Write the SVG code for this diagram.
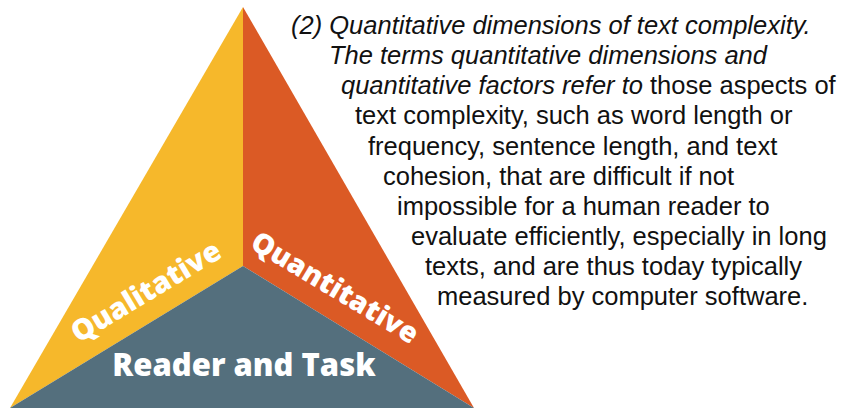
<svg xmlns="http://www.w3.org/2000/svg" width="842" height="409" viewBox="0 0 842 409">
  <style>
    .seg-label { font-family: "Open Sans", "Liberation Sans", sans-serif; font-weight: 800; fill: #ffffff; text-anchor: middle; }
    .body { font-family: "Liberation Sans", Arial, sans-serif; font-size: 25.5px; fill: #111111; }
    .it { font-style: italic; }
  </style>
  <rect width="842" height="409" fill="#ffffff"/>

  <!-- Text-complexity triangle -->
  <g id="qualitative">
    <polygon points="243,7 10,408 243,266" fill="#F6B82B"/>
    <text class="seg-label" font-size="29" transform="translate(151,300) rotate(-31)">Qualitative</text>
  </g>
  <g id="quantitative">
    <polygon points="243,7 474,408 243,266" fill="#DB5A25"/>
    <text class="seg-label" font-size="28.5" transform="translate(330,296) rotate(31)">Quantitative</text>
  </g>
  <g id="reader-task">
    <polygon points="10,408 243,266 474,408" fill="#546F7D"/>
    <text class="seg-label" font-size="31" x="244" y="376">Reader and Task</text>
  </g>

  <!-- Definition text -->
  <g id="definition" class="body">
    <text x="291" y="34" class="it">(2) Quantitative dimensions of text complexity.</text>
    <text x="329" y="64" class="it">The terms quantitative dimensions and</text>
    <text x="341" y="94"><tspan class="it">quantitative factors refer to</tspan> those aspects of</text>
    <text x="355" y="124">text complexity, such as word length or</text>
    <text x="368" y="155">frequency, sentence length, and text</text>
    <text x="383" y="185">cohesion, that are difficult if not</text>
    <text x="397" y="215">impossible for a human reader to</text>
    <text x="411" y="245">evaluate efficiently, especially in long</text>
    <text x="425" y="275">texts, and are thus today typically</text>
    <text x="437" y="305">measured by computer software.</text>
  </g>
</svg>
